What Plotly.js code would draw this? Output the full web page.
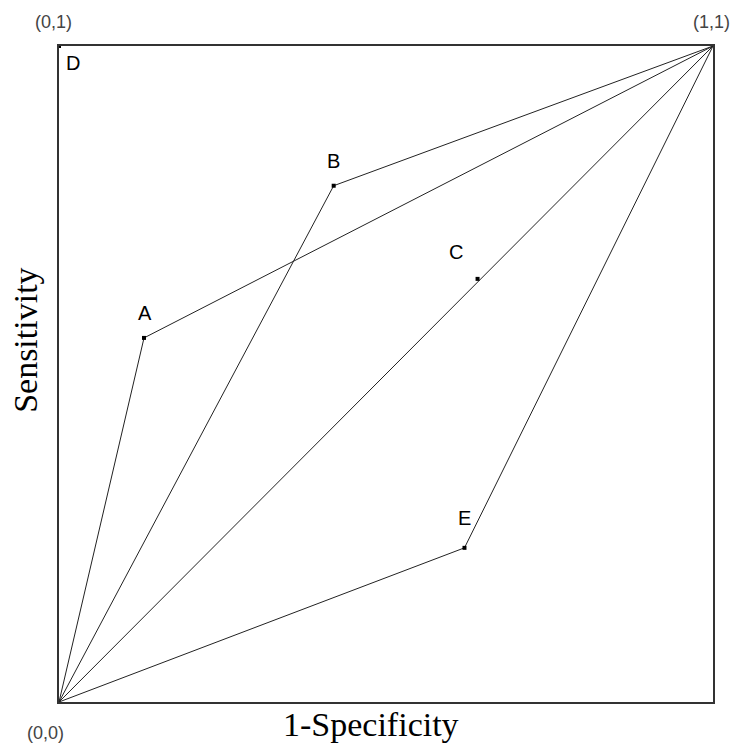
<!DOCTYPE html>
<html>
<head>
<meta charset="utf-8">
<script src="https://cdn.plot.ly/plotly-3.0.1.min.js"></script>
<style>html,body{margin:0;padding:0;background:#fff;}#chart{width:733px;height:746px;}</style>
</head>
<body>
<div id="chart"></div>
<script>
// Data (1-Specificity, Sensitivity)
const pointLabels = ["A", "B", "C", "D", "E"];
const pointX = [0.13, 0.42, 0.64, 0.0, 0.62];
const pointY = [0.555, 0.787, 0.645, 1.0, 0.235];
// curves go (0,0) -> point -> (1,1)
const curvePoints = ["A", "B", "E"];
const diagonalX = [0, 1];
const diagonalY = [0, 1];
const cornerLabels = ["(0,0)", "(0,1)", "(1,1)"];
const cornerX = [0, 0, 1];
const cornerY = [0, 1, 1];
const xTitle = "1-Specificity";
const yTitle = "Sensitivity";

const traces = [];
curvePoints.forEach(function (lab) {
  const i = pointLabels.indexOf(lab);
  traces.push({
    x: [0, pointX[i], 1], y: [0, pointY[i], 1],
    mode: "lines", type: "scatter",
    line: {color: "#222", width: 1}, hoverinfo: "skip", showlegend: false
  });
});
traces.push({
  x: diagonalX, y: diagonalY, mode: "lines", type: "scatter",
  line: {color: "#222", width: 1}, hoverinfo: "skip", showlegend: false
});
traces.push({
  x: pointX, y: pointY, mode: "markers", type: "scatter",
  marker: {symbol: "square", size: 4, color: "#000"},
  cliponaxis: false, showlegend: false
});

const labelShift = {
  A: [1, 25], B: [0, 25], C: [-22, 27], D: [14, -17], E: [0, 30]
};
const annotations = [];
pointLabels.forEach(function (lab, i) {
  annotations.push({
    x: pointX[i], y: pointY[i], xref: "x", yref: "y", text: lab,
    showarrow: false, xshift: labelShift[lab][0], yshift: labelShift[lab][1],
    font: {family: "Liberation Sans, Arial, sans-serif", size: 20, color: "#000"}
  });
});
const cornerShift = [[-14, -31], [-6, 24], [19, 24]];
cornerLabels.forEach(function (lab, i) {
  annotations.push({
    x: cornerX[i], y: cornerY[i], xref: "x", yref: "y", text: lab,
    showarrow: false, xshift: cornerShift[i][0], yshift: cornerShift[i][1],
    xanchor: i === 2 ? "right" : "center",
    font: {family: "Liberation Sans, Arial, sans-serif", size: 18, color: "#444"}
  });
});
// axis titles
annotations.push({
  x: 0.477, y: -0.035, xref: "paper", yref: "paper", text: xTitle,
  showarrow: false, xanchor: "center", yanchor: "middle",
  font: {family: "Liberation Serif, Times New Roman, serif", size: 34, color: "#000"}
});
annotations.push({
  x: -0.0505, y: 0.552, xref: "paper", yref: "paper", text: yTitle,
  showarrow: false, textangle: -90, xanchor: "center", yanchor: "middle",
  font: {family: "Liberation Serif, Times New Roman, serif", size: 34, color: "#000"}
});

const layout = {
  width: 733, height: 746,
  margin: {l: 59, r: 20, t: 46, b: 44},
  paper_bgcolor: "#fff", plot_bgcolor: "#fff",
  showlegend: false,
  xaxis: {
    range: [0, 1], showgrid: false, zeroline: false, showticklabels: false, ticks: "",
    showline: true, mirror: true, linecolor: "#333", linewidth: 2
  },
  yaxis: {
    range: [0, 1], showgrid: false, zeroline: false, showticklabels: false, ticks: "",
    showline: true, mirror: true, linecolor: "#333", linewidth: 2
  },
  annotations: annotations
};

Plotly.newPlot("chart", traces, layout, {displayModeBar: false, staticPlot: true});
</script>
</body>
</html>
